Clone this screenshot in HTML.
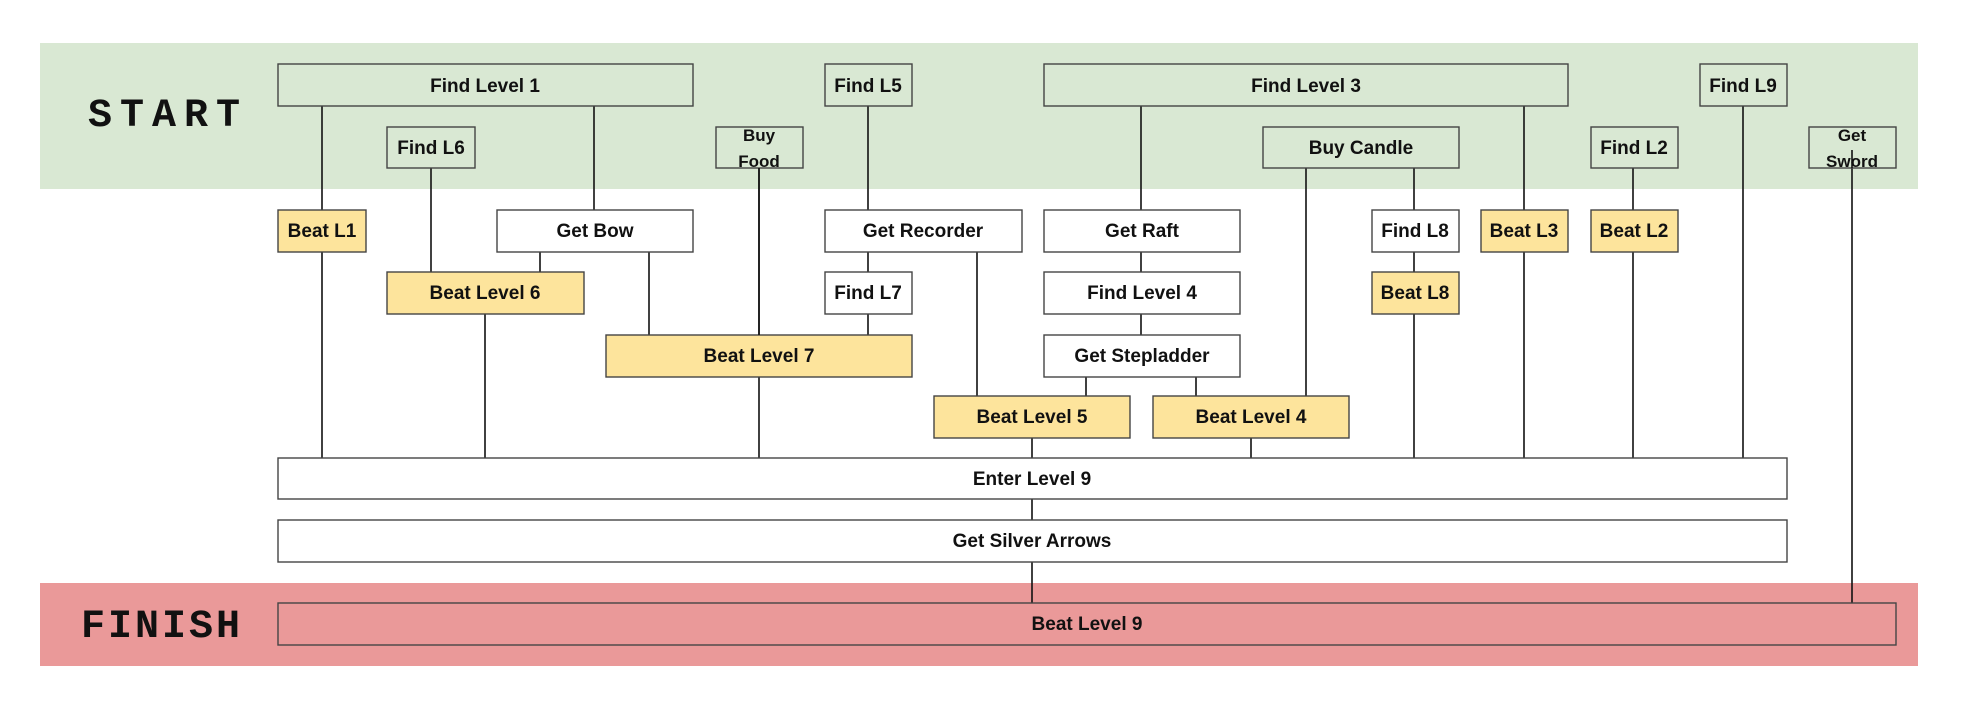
<!DOCTYPE html>
<html><head><meta charset="utf-8"><style>
html,body{margin:0;padding:0;background:#fff;}
svg text{font-family:"Liberation Sans","DejaVu Sans",sans-serif;font-weight:bold;font-size:19px;fill:#111;}
</style></head><body>
<svg width="1966" height="718" viewBox="0 0 1966 718" xmlns="http://www.w3.org/2000/svg">
<rect x="40" y="43" width="1878" height="146" fill="#d9e8d3"/>
<rect x="40" y="583" width="1878" height="83" fill="#ea9999"/>
<text x="168" y="126" text-anchor="middle" style="font-family:'Liberation Mono',monospace;font-size:40px;font-weight:bold;letter-spacing:8px">START</text>
<text x="162" y="637" text-anchor="middle" style="font-family:'Liberation Mono',monospace;font-size:40px;font-weight:bold;letter-spacing:3px">FINISH</text>
<g stroke="#111" stroke-width="1.6" fill="none">
<line x1="322" y1="106" x2="322" y2="458"/>
<line x1="594" y1="106" x2="594" y2="210"/>
<line x1="431" y1="168" x2="431" y2="272"/>
<line x1="540" y1="252" x2="540" y2="272"/>
<line x1="649" y1="252" x2="649" y2="335"/>
<line x1="759" y1="168" x2="759" y2="458"/>
<line x1="485" y1="314" x2="485" y2="458"/>
<line x1="868" y1="106" x2="868" y2="335"/>
<line x1="977" y1="252" x2="977" y2="397"/>
<line x1="1141" y1="106" x2="1141" y2="335"/>
<line x1="1086" y1="377" x2="1086" y2="397"/>
<line x1="1196" y1="377" x2="1196" y2="397"/>
<line x1="1306" y1="168" x2="1306" y2="397"/>
<line x1="1414" y1="168" x2="1414" y2="458"/>
<line x1="1524" y1="106" x2="1524" y2="458"/>
<line x1="1633" y1="168" x2="1633" y2="458"/>
<line x1="1743" y1="106" x2="1743" y2="458"/>
<line x1="1852" y1="168" x2="1852" y2="603"/>
<line x1="1032" y1="438" x2="1032" y2="603"/>
<line x1="1251" y1="438" x2="1251" y2="458"/>
</g>
<g stroke="#444" stroke-width="1.4">
<rect x="278" y="64" width="415" height="42" fill="#d9e8d3"/>
<rect x="825" y="64" width="87" height="42" fill="#d9e8d3"/>
<rect x="1044" y="64" width="524" height="42" fill="#d9e8d3"/>
<rect x="1700" y="64" width="87" height="42" fill="#d9e8d3"/>
<rect x="387" y="127" width="88" height="41" fill="#d9e8d3"/>
<rect x="716" y="127" width="87" height="41" fill="#d9e8d3"/>
<rect x="1263" y="127" width="196" height="41" fill="#d9e8d3"/>
<rect x="1591" y="127" width="87" height="41" fill="#d9e8d3"/>
<rect x="1809" y="127" width="87" height="41" fill="#d9e8d3"/>
<rect x="278" y="210" width="88" height="42" fill="#fde49c"/>
<rect x="497" y="210" width="196" height="42" fill="#fff"/>
<rect x="825" y="210" width="197" height="42" fill="#fff"/>
<rect x="1044" y="210" width="196" height="42" fill="#fff"/>
<rect x="1372" y="210" width="87" height="42" fill="#fff"/>
<rect x="1481" y="210" width="87" height="42" fill="#fde49c"/>
<rect x="1591" y="210" width="87" height="42" fill="#fde49c"/>
<rect x="387" y="272" width="197" height="42" fill="#fde49c"/>
<rect x="825" y="272" width="87" height="42" fill="#fff"/>
<rect x="1044" y="272" width="196" height="42" fill="#fff"/>
<rect x="1372" y="272" width="87" height="42" fill="#fde49c"/>
<rect x="606" y="335" width="306" height="42" fill="#fde49c"/>
<rect x="1044" y="335" width="196" height="42" fill="#fff"/>
<rect x="934" y="396" width="196" height="42" fill="#fde49c"/>
<rect x="1153" y="396" width="196" height="42" fill="#fde49c"/>
<rect x="278" y="458" width="1509" height="41" fill="#fff"/>
<rect x="278" y="520" width="1509" height="42" fill="#fff"/>
<rect x="278" y="603" width="1618" height="42" fill="#ea9999"/>
</g>
<g stroke="#111" stroke-width="1.6">
<line x1="759" y1="168" x2="759" y2="335"/>
<line x1="1852" y1="150" x2="1852" y2="168"/>
</g>
<g text-anchor="middle">
<text x="485" y="92">Find Level 1</text>
<text x="868" y="92">Find L5</text>
<text x="1306" y="92">Find Level 3</text>
<text x="1743" y="92">Find L9</text>
<text x="431" y="154">Find L6</text>
<text x="759" y="141" style="font-size:17px">Buy</text>
<text x="759" y="167" style="font-size:17px">Food</text>
<text x="1361" y="154">Buy Candle</text>
<text x="1634" y="154">Find L2</text>
<text x="1852" y="141" style="font-size:17px">Get</text>
<text x="1852" y="167" style="font-size:17px">Sword</text>
<text x="322" y="237">Beat L1</text>
<text x="595" y="237">Get Bow</text>
<text x="923" y="237">Get Recorder</text>
<text x="1142" y="237">Get Raft</text>
<text x="1415" y="237">Find L8</text>
<text x="1524" y="237">Beat L3</text>
<text x="1634" y="237">Beat L2</text>
<text x="485" y="299">Beat Level 6</text>
<text x="868" y="299">Find L7</text>
<text x="1142" y="299">Find Level 4</text>
<text x="1415" y="299">Beat L8</text>
<text x="759" y="362">Beat Level 7</text>
<text x="1142" y="362">Get Stepladder</text>
<text x="1032" y="423">Beat Level 5</text>
<text x="1251" y="423">Beat Level 4</text>
<text x="1032" y="485">Enter Level 9</text>
<text x="1032" y="547">Get Silver Arrows</text>
<text x="1087" y="630">Beat Level 9</text>
</g>
</svg>
</body></html>
